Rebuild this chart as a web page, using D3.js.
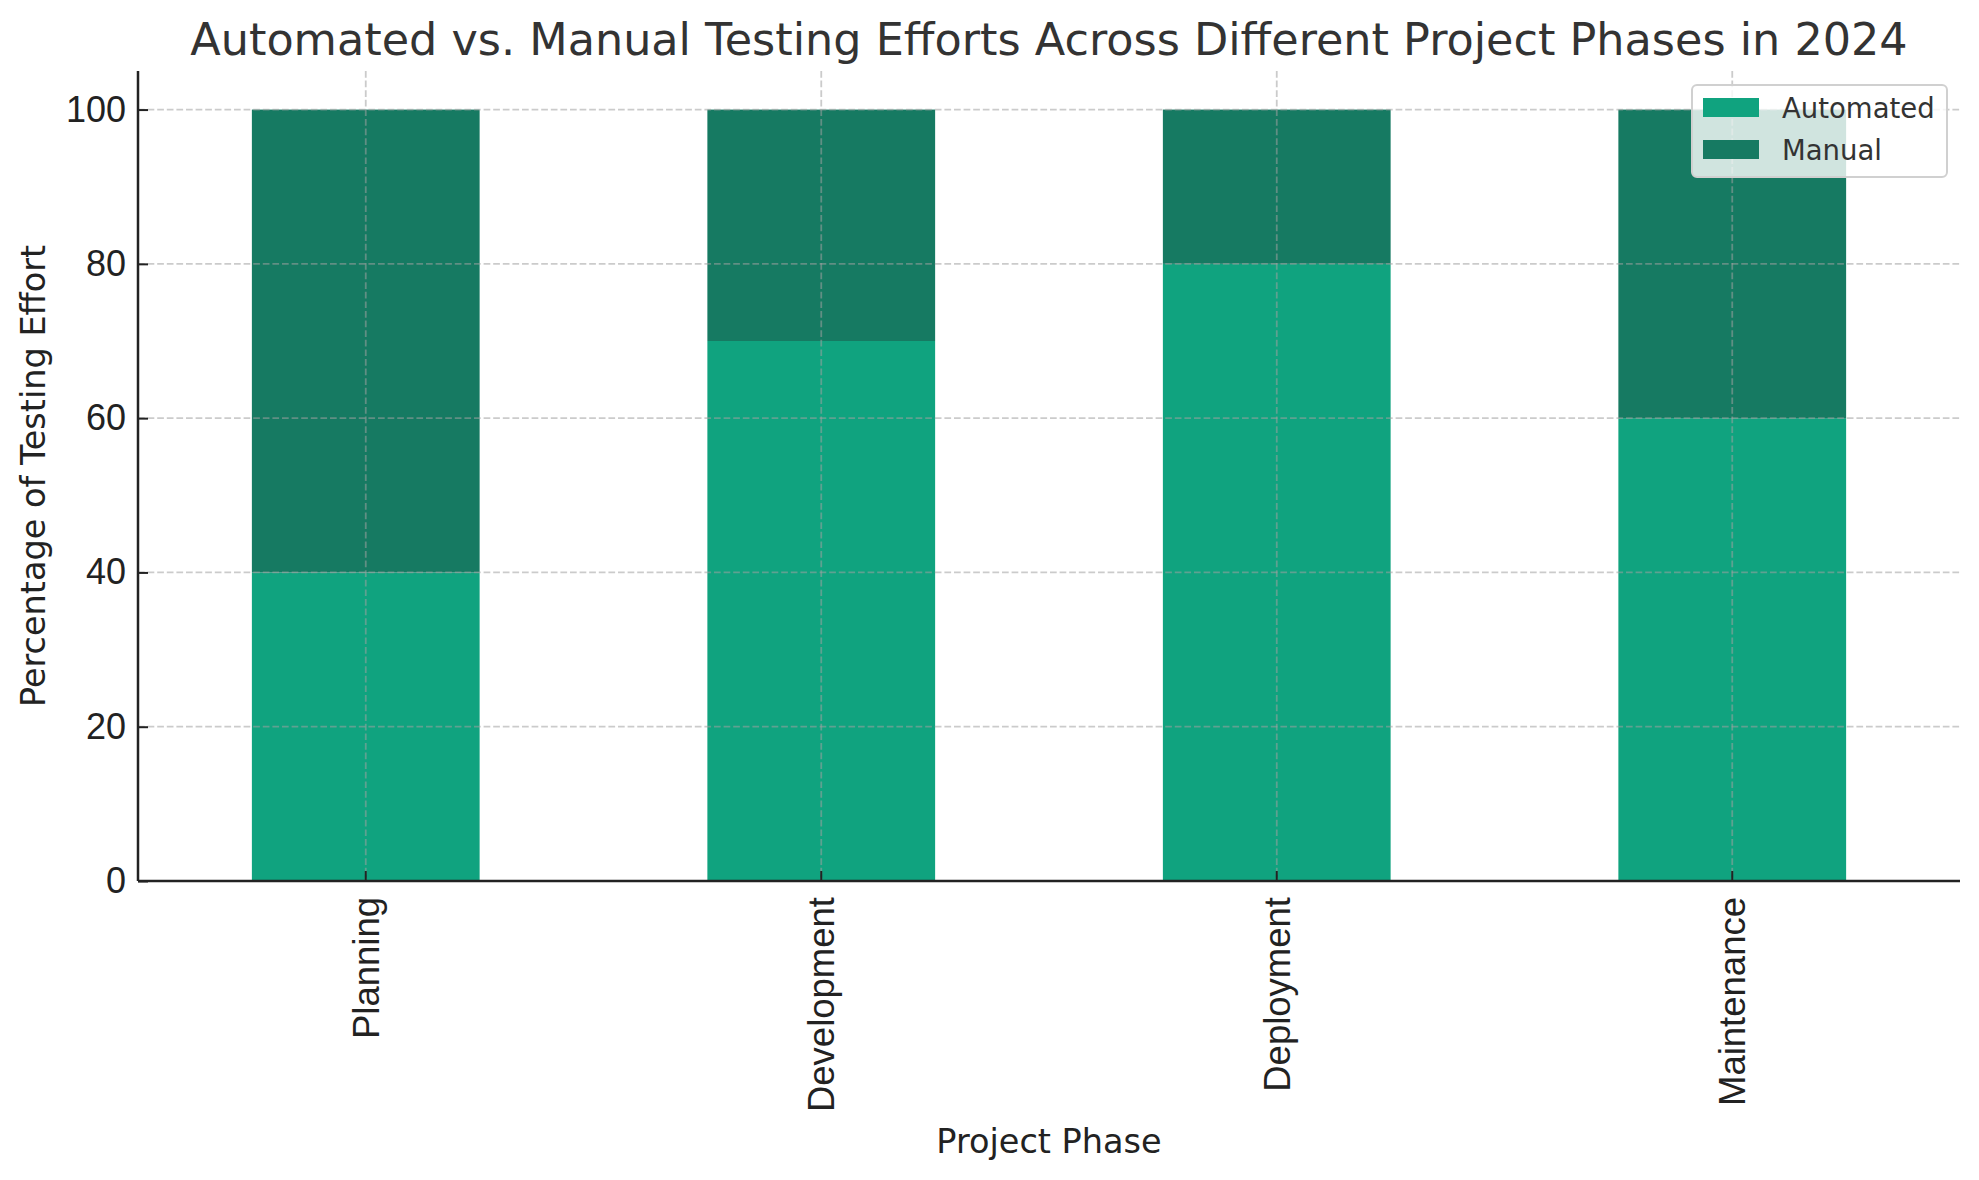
<!DOCTYPE html>
<html>
<head>
<meta charset="utf-8">
<script src="https://cdn.jsdelivr.net/npm/d3@7"></script>
<style>
  body { margin: 0; background: #fff; }
  svg { display: block; font-family: 'DejaVu Sans', sans-serif; }
</style>
</head>
<body>
<svg id="chart" width="1979" height="1180"></svg>
<script>
// data
const phases = ['Planning', 'Development', 'Deployment', 'Maintenance']
const automated = [40, 70, 80, 60]
const manual = [60, 30, 20, 40]
const seriesNames = ['Automated', 'Manual']
const seriesColors = ['#10a37f', '#167a62']
const yTicks = [0, 20, 40, 60, 80, 100]

const width = 1979
const height = 1180
const margin = { top: 71, right: 19, bottom: 299, left: 138 }
const innerW = width - margin.left - margin.right
const innerH = height - margin.top - margin.bottom

const svg = d3.select('#chart')

const rows = phases.map((p, i) => ({ phase: p, Automated: automated[i], Manual: manual[i] }))
const stacked = d3.stack().keys(seriesNames)(rows)

const x = d3.scaleBand()
  .domain(phases)
  .range([margin.left, margin.left + innerW])
  .paddingInner(0.5)
  .paddingOuter(0.25)

const y = d3.scaleLinear()
  .domain([0, 105])
  .range([margin.top + innerH, margin.top])

// bars
svg.append('g')
  .attr('class', 'bars')
  .selectAll('g')
  .data(stacked)
  .join('g')
    .attr('fill', (d, i) => seriesColors[i])
  .selectAll('rect')
  .data(d => d)
  .join('rect')
    .attr('x', d => x(d.data.phase))
    .attr('width', x.bandwidth())
    .attr('y', d => y(d[1]))
    .attr('height', d => y(d[0]) - y(d[1]))

// grid on top of bars, dashed like the original
let grid = svg.append('g')
  .attr('class', 'grid')
  .attr('stroke', '#a0a0a0')
  .attr('stroke-opacity', 0.55)
  .attr('stroke-width', 1.8)
  .attr('stroke-dasharray', '6.7,2.9')

grid.selectAll('.hgrid')
  .data(yTicks)
  .join('line')
    .attr('class', 'hgrid')
    .attr('x1', margin.left)
    .attr('x2', margin.left + innerW)
    .attr('y1', d => y(d))
    .attr('y2', d => y(d))

grid.selectAll('.vgrid')
  .data(phases)
  .join('line')
    .attr('class', 'vgrid')
    .attr('x1', d => x(d) + x.bandwidth() / 2)
    .attr('x2', d => x(d) + x.bandwidth() / 2)
    .attr('y1', margin.top)
    .attr('y2', margin.top + innerH)

// y axis, ticks pointing inward
let yAxis = svg.append('g')
  .attr('class', 'y-axis')
  .attr('transform', `translate(${margin.left},0)`)
  .call(d3.axisLeft(y).tickValues(yTicks).tickSize(-10).tickPadding(12))

yAxis.select('.domain')
  .attr('d', `M0,${margin.top}V${margin.top + innerH}`)
  .attr('stroke', '#222')
  .attr('stroke-width', 2.5)
yAxis.selectAll('.tick line').attr('stroke', '#222').attr('stroke-width', 2)
yAxis.selectAll('.tick text')
  .attr('fill', '#222')
  .style('font-size', '36px')

// x axis
let xAxis = svg.append('g')
  .attr('class', 'x-axis')
  .attr('transform', `translate(0,${margin.top + innerH})`)
  .call(d3.axisBottom(x).tickSize(-10).tickPadding(0))

xAxis.select('.domain')
  .attr('d', `M${margin.left},0H${margin.left + innerW}`)
  .attr('stroke', '#222')
  .attr('stroke-width', 2.5)
xAxis.selectAll('.tick line').attr('stroke', '#222').attr('stroke-width', 2)
xAxis.selectAll('.tick text')
  .attr('fill', '#222')
  .style('font-size', '36.5px')
  .attr('text-anchor', 'end')
  .attr('transform', 'translate(0,16) rotate(-90)')
  .attr('x', 0)
  .attr('y', 0)
  .attr('dy', '0.36em')

// labels
svg.append('text')
  .attr('class', 'title')
  .attr('x', margin.left + innerW / 2)
  .attr('y', 55)
  .attr('text-anchor', 'middle')
  .attr('fill', '#333')
  .style('font-size', '44.5px')
  .text('Automated vs. Manual Testing Efforts Across Different Project Phases in 2024')

svg.append('text')
  .attr('class', 'x-label')
  .attr('x', margin.left + innerW / 2)
  .attr('y', 1153)
  .attr('text-anchor', 'middle')
  .attr('fill', '#222')
  .style('font-size', '33.5px')
  .text('Project Phase')

svg.append('text')
  .attr('class', 'y-label')
  .attr('transform', `translate(45,${margin.top + innerH / 2}) rotate(-90)`)
  .attr('text-anchor', 'middle')
  .attr('fill', '#222')
  .style('font-size', '33.5px')
  .text('Percentage of Testing Effort')

// legend, upper right
let legend = svg.append('g')
  .attr('class', 'legend')
  .attr('transform', 'translate(1692,85)')

legend.append('rect')
  .attr('width', 255)
  .attr('height', 92)
  .attr('rx', 5)
  .attr('fill', '#fff')
  .attr('fill-opacity', 0.8)
  .attr('stroke', '#d0d0d0')
  .attr('stroke-width', 2)

let item = legend.selectAll('.item')
  .data(seriesNames)
  .join('g')
    .attr('class', 'item')
    .attr('transform', (d, i) => `translate(11,${13 + i * 42})`)

item.append('rect')
  .attr('width', 56)
  .attr('height', 19)
  .attr('fill', (d, i) => seriesColors[i])

item.append('text')
  .attr('x', 79)
  .attr('y', 20)
  .attr('fill', '#333')
  .style('font-size', '27.5px')
  .text(d => d)
</script>
</body>
</html>
